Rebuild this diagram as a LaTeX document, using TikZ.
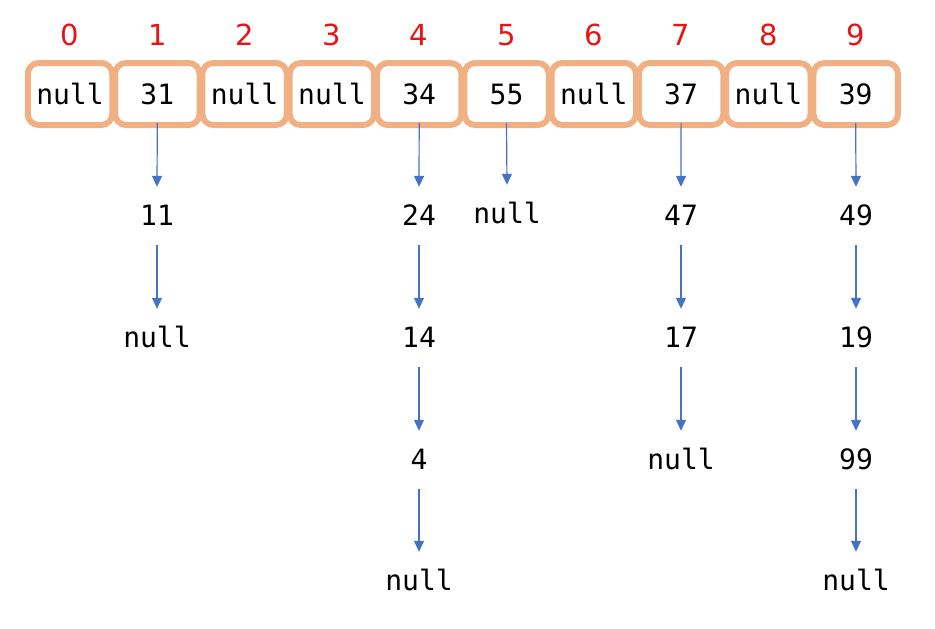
\documentclass[tikz,border=0pt]{standalone}
\usepackage{fontspec}
\setmainfont{DejaVu Sans}
\newfontfamily\valfont{DejaVu Sans Mono}
\newfontfamily\idxfont{DejaVu Sans}
\usetikzlibrary{arrows.meta}
\definecolor{boxorange}{RGB}{241,176,131}
\definecolor{arrowblue}{RGB}{68,114,196}
\definecolor{idxred}{RGB}{230,20,20}
\tikzset{
  cell/.style={draw=boxorange, line width=6pt, rounded corners=11pt, minimum width=84.5pt, minimum height=62pt, inner sep=0pt, font=\valfont\fontsize{28}{28}\selectfont, text height=20pt, text depth=0pt},
  val/.style={inner sep=0pt, minimum height=56pt, font=\valfont\fontsize{28}{28}\selectfont, text height=20pt, text depth=0pt},
  idx/.style={inner sep=0pt, font=\idxfont\fontsize{29}{29}\selectfont, text=idxred},
  link/.style={draw=arrowblue, line width=1.2pt, -{Triangle[length=11pt,width=10pt]}}
}
\begin{document}
\begin{tikzpicture}[x=1pt,y=-1pt]
\useasboundingbox (0,0) rectangle (935,629);
% index labels and cells
\foreach \i/\v in {0/null,1/31,2/null,3/null,4/34,5/55,6/null,7/37,8/null,9/39}{
  \node[idx] (i\i) at ({70+87.3*\i},35) {\i};
  \node[cell] (c\i) at ({70+87.3*\i},94) {\v};
}
% column 1
\node[val] (a1) at (157,215) {11};
\node[val] (a2) at (157,337) {null};
% column 4
\node[val] (b1) at (419,215) {24};
\node[val] (b2) at (419,337) {14};
\node[val] (b3) at (419,459) {4};
\node[val] (b4) at (419,580) {null};
% column 5
\node[val] (d1) at (507,213) {null};
% column 7
\node[val] (e1) at (681,215) {47};
\node[val] (e2) at (681,337) {17};
\node[val] (e3) at (681,459) {null};
% column 9
\node[val] (f1) at (856,215) {49};
\node[val] (f2) at (856,337) {19};
\node[val] (f3) at (856,459) {99};
\node[val] (f4) at (856,580) {null};
% links
\draw[link] (c1.south) ++(0,-5) -- (a1.north);
\draw[link] (a1) ++(0,30) -- (a2.north);
\draw[link] (c4.south) ++(0,-5) -- (b1.north);
\draw[link] (b1) ++(0,30) -- (b2.north);
\draw[link] (b2) ++(0,30) -- (b3.north);
\draw[link] (b3) ++(0,30) -- (b4.north);
\draw[link] (c5.south) ++(0,-5) -- (d1.north);
\draw[link] (c7.south) ++(0,-5) -- (e1.north);
\draw[link] (e1) ++(0,30) -- (e2.north);
\draw[link] (e2) ++(0,30) -- (e3.north);
\draw[link] (c9.south) ++(0,-5) -- (f1.north);
\draw[link] (f1) ++(0,30) -- (f2.north);
\draw[link] (f2) ++(0,30) -- (f3.north);
\draw[link] (f3) ++(0,30) -- (f4.north);
\end{tikzpicture}
\end{document}
